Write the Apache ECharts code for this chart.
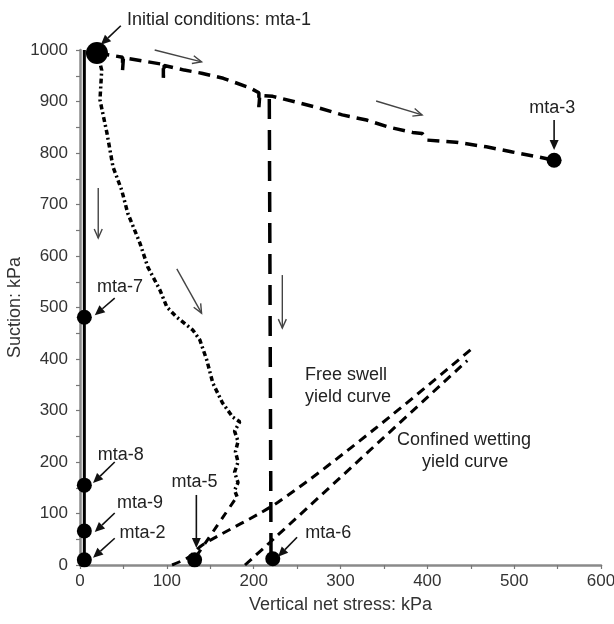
<!DOCTYPE html>
<html><head><meta charset="utf-8">
<script src="https://cdn.jsdelivr.net/npm/echarts@6/dist/echarts.min.js"></script>
<style>html,body{margin:0;padding:0;background:#fff}#c{width:614px;height:624px}</style>
</head><body><div id="c"></div>
<script>
// ---- data (kPa) ----
const xRange = [0, 600];
const yRange = [0, 1000];
const solidPath = [[5, 0], [5, 1000]];
const loadingPath = [[20,994],[35,990],[49,986],[49,961],[50,985],[96,972],[96,946],[97,970],[120,961],[140,955],[165,945],[195,927],[206,917],[206,889],[207,912],[222,910],[253,897],[276,887],[302,874],[330,864],[356,850],[383,840],[394,838],[400,825],[433,821],[468,812],[498,802],[529,792],[546,786]];
const verticalWetPath = [[218,905],[220,12]];
const wettingCurve = [[20,994],[25,961],[23,903],[31,839],[38,773],[48,728],[55,683],[69,625],[78,579],[92,534],[100,501],[111,482],[130,456],[138,437],[146,398],[153,353],[164,315],[176,287],[184,278],[178,260],[182,240],[179,220],[182,200],[178,180],[182,160],[178,145],[181,132]];
const wettingTail = [[178,126],[136,22]];
const freeSwellCurve = [[106,0],[125,15],[141,39],[228,122],[340,265],[452,421]];
const confinedCurve = [[190,0],[222,49],[446,397]];
const markerPts = [[19.5,994,22],[546,786,15],[5,481,15],[5,155,15],[5,66,15],[5,10,15],[132,10,15],[222,12,15]];
const labels = [
  ['Initial conditions: mta-1',160,1058,'center'],
  ['mta-3',544,887,'center'],
  ['mta-7',46,540,'center'],
  ['mta-8',47,214,'center'],
  ['mta-9',69,120,'center'],
  ['mta-2',72,62,'center'],
  ['mta-5',132,161,'center'],
  ['mta-6',286,62,'center'],
  ['Free swell',259,369,'left'],
  ['yield curve',259,326,'left'],
  ['Confined wetting',365,243,'left'],
  ['yield curve',394,200,'left']
];
const pointerArrows = [ // [x0,y0,x1,y1]
  [47,1047,24,1010],[546,864,546,806],[40,518,17,485],[40,200,15,159],
  [40,101,17,64],[40,52,15,14],[134,136,134,33],[250,54,228,16]
];
const processArrows = [
  [86,1000,140,977],[341,901,394,874],[21,732,21,635],[111.5,575,140,489],[233,563,233,460]
];

const chart = echarts.init(document.getElementById('c'));
const FONT = "'Liberation Sans', Arial, sans-serif";
const axisCommon = {
  axisLine: {show: true, lineStyle: {color: '#8a8a8a', width: 2.5}},
  axisTick: {show: true, length: 4, inside: false, lineStyle: {color: '#777', width: 1.2}},
  minorTick: {show: true, splitNumber: 2, length: 4, lineStyle: {color: '#777', width: 1.2}},
  splitLine: {show: false},
  axisLabel: {color: '#333', fontSize: 17, fontFamily: FONT, formatter: v => String(v)},
  nameTextStyle: {color: '#333', fontSize: 18, fontFamily: FONT}
};
chart.setOption({
  animation: false,
  backgroundColor: '#fff',
  grid: {left: 80, right: 13, top: 50, bottom: 59, containLabel: false, outerBoundsMode: 'none'},
  xAxis: Object.assign({}, axisCommon, {type: 'value', min: xRange[0], max: xRange[1], interval: 100,
    name: 'Vertical net stress: kPa', nameLocation: 'middle', nameGap: 31, nameMoveOverlap: false,
    axisLabel: Object.assign({}, axisCommon.axisLabel, {margin: 8})}),
  yAxis: Object.assign({}, axisCommon, {type: 'value', min: yRange[0], max: yRange[1], interval: 100,
    name: 'Suction: kPa', nameLocation: 'middle', nameGap: 56, nameMoveOverlap: false,
    axisLabel: Object.assign({}, axisCommon.axisLabel, {margin: 12})}),
  series: [
    {type: 'line', data: solidPath, symbol: 'none', lineStyle: {color: '#000', width: 3}},
    {type: 'line', data: loadingPath, symbol: 'none', lineStyle: {color: '#000', width: 3.5, type: [12, 7]}},
    {type: 'line', data: verticalWetPath, symbol: 'none', lineStyle: {color: '#000', width: 3.5, type: [20, 11]}},
    {type: 'line', data: wettingCurve, symbol: 'none', lineStyle: {color: '#000', width: 3.5, type: [5, 3, 2, 3]}},
    {type: 'line', data: wettingTail, symbol: 'none', lineStyle: {color: '#000', width: 3, type: [8, 7]}},
    {type: 'line', data: freeSwellCurve, symbol: 'none', smooth: 0.3, lineStyle: {color: '#000', width: 3, type: [9, 6]}},
    {type: 'line', data: confinedCurve, symbol: 'none', smooth: 0.2, lineStyle: {color: '#000', width: 3, type: [9, 6]}},
    {type: 'scatter', data: markerPts, symbolSize: d => d[2], itemStyle: {color: '#000', opacity: 1}, z: 5}
  ]
});

function px(p) { return chart.convertToPixel({gridIndex: 0}, p); }
const g = [];
labels.forEach(l => {
  const p = px([l[1], l[2]]);
  g.push({type: 'text', x: p[0], y: p[1], z: 10,
    style: {text: l[0], fill: '#222', font: '18px ' + FONT, textAlign: l[3], textVerticalAlign: 'middle'}});
});
function headPts(a, b, len, hw) {
  const dx = b[0]-a[0], dy = b[1]-a[1], L = Math.hypot(dx, dy);
  const ux = dx/L, uy = dy/L;
  const bx = b[0]-ux*len, by = b[1]-uy*len;
  return {base: [bx, by], l: [bx - uy*hw, by + ux*hw], r: [bx + uy*hw, by - ux*hw]};
}
pointerArrows.forEach(a => {
  const p0 = px([a[0], a[1]]), p1 = px([a[2], a[3]]);
  const h = headPts(p0, p1, 10, 4.5);
  g.push({type: 'line', z: 10, shape: {x1: p0[0], y1: p0[1], x2: h.base[0], y2: h.base[1]}, style: {stroke: '#111', lineWidth: 1.6}});
  g.push({type: 'polygon', z: 10, shape: {points: [p1, h.l, h.r]}, style: {fill: '#111'}});
});
processArrows.forEach(a => {
  const p0 = px([a[0], a[1]]), p1 = px([a[2], a[3]]);
  const h = headPts(p0, p1, 9, 4);
  g.push({type: 'line', z: 10, shape: {x1: p0[0], y1: p0[1], x2: p1[0], y2: p1[1]}, style: {stroke: '#444', lineWidth: 1.4}});
  g.push({type: 'polyline', z: 10, shape: {points: [h.l, p1, h.r]}, style: {stroke: '#444', lineWidth: 1.4, fill: null}});
});
chart.setOption({graphic: g});
</script>
</body></html>
